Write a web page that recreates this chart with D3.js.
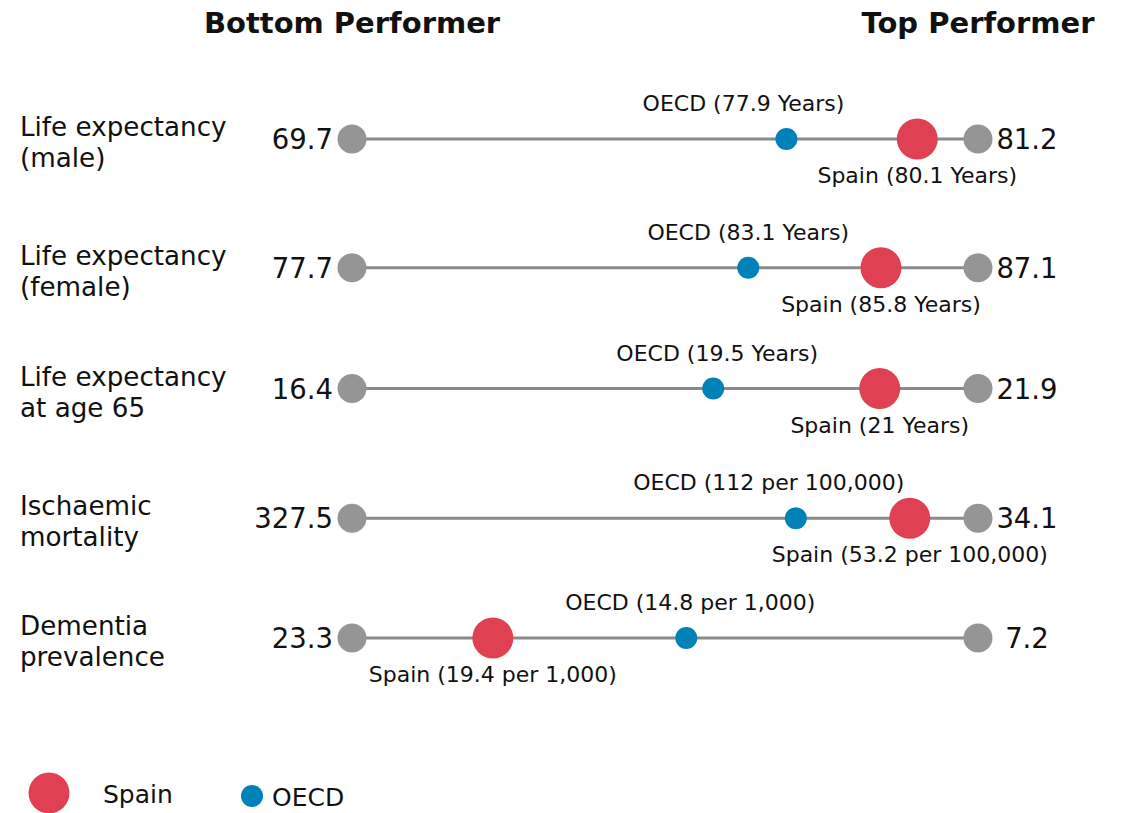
<!DOCTYPE html>
<html>
<head>
<meta charset="utf-8">
<script src="https://cdn.jsdelivr.net/npm/d3@7"></script>
<style>
  body { margin: 0; background: #fff; }
  text { font-family: "DejaVu Sans", Verdana, sans-serif; fill: #111; }
</style>
</head>
<body>
<script>
// indicators, one row each (two lines of label)
var categories = [
  ["Life expectancy", "(male)"],
  ["Life expectancy", "(female)"],
  ["Life expectancy", "at age 65"],
  ["Ischaemic", "mortality"],
  ["Dementia", "prevalence"]
];
var bottomValues = ["69.7", "77.7", "16.4", "327.5", "23.3"];
var topValues = ["81.2", "87.1", "21.9", "34.1", "7.2"];
var spainValues = ["80.1", "85.8", "21", "53.2", "19.4"];
var oecdValues = ["77.9", "83.1", "19.5", "112", "14.8"];
var units = ["Years", "Years", "Years", "per 100,000", "per 1,000"];
// standardised position between bottom (0) and top (100) performer
var spainScore = [90.3, 84.5, 84.3, 89.1, 22.5];
var oecdScore = [69.4, 63.3, 57.7, 70.9, 53.4];

var width = 1127, height = 813;
var red = "#e04152", blue = "#0082b8", grey = "#959595";

var svg = d3.select("body").append("svg")
  .attr("width", width)
  .attr("height", height);

var x = d3.scaleLinear().domain([0, 100]).range([352, 978]);
var y = d3.scalePoint().domain(d3.range(categories.length)).range([139, 638]);
// rows in the original alternate slightly in spacing
var rowShift = [0, 4, 0, 5, 0];

// small nudges so the OECD label clears the Spain marker
var oecdNudge = [-43, 0, 4, -27, 4];

// column titles
svg.append("text")
  .attr("x", x(0)).attr("y", 33)
  .attr("text-anchor", "middle")
  .style("font-weight", "bold").style("font-size", "29px")
  .text("Bottom Performer");
svg.append("text")
  .attr("x", x(100)).attr("y", 33)
  .attr("text-anchor", "middle")
  .style("font-weight", "bold").style("font-size", "29px")
  .text("Top Performer");

var rows = svg.selectAll("g.row")
  .data(categories)
  .enter().append("g")
  .attr("class", "row")
  .attr("transform", function(d, i) { return "translate(0," + (y(i) + rowShift[i]) + ")"; });

// category label
rows.append("text")
  .attr("x", 20)
  .style("font-size", "26.2px")
  .selectAll("tspan")
  .data(function(d) { return d; })
  .enter().append("tspan")
  .attr("x", 20)
  .attr("y", function(d, j) { return j == 0 ? -3 : 28; })
  .text(function(d) { return d; });

// range line
rows.append("line")
  .attr("x1", x(0)).attr("x2", x(100))
  .attr("stroke", "#8a8a8a")
  .attr("stroke-width", 3);

// bottom and top performers
rows.append("circle").attr("cx", x(0)).attr("r", 14.5).attr("fill", grey);
rows.append("circle").attr("cx", x(100)).attr("r", 14.5).attr("fill", grey);

rows.append("text")
  .attr("x", x(0) - 19).attr("y", 10)
  .attr("text-anchor", "end")
  .style("font-size", "27.5px")
  .text(function(d, i) { return bottomValues[i]; });
rows.append("text")
  .attr("x", x(100) + 49).attr("y", 10)
  .attr("text-anchor", "middle")
  .style("font-size", "27.5px")
  .text(function(d, i) { return topValues[i]; });

// OECD average
rows.append("circle")
  .attr("cx", function(d, i) { return x(oecdScore[i]); })
  .attr("r", 11)
  .attr("fill", blue);
rows.append("text")
  .attr("x", function(d, i) { return x(oecdScore[i]) + oecdNudge[i]; })
  .attr("y", -28)
  .attr("text-anchor", "middle")
  .style("font-size", "22px")
  .text(function(d, i) { return "OECD (" + oecdValues[i] + " " + units[i] + ")"; });

// Spain
rows.append("circle")
  .attr("cx", function(d, i) { return x(spainScore[i]); })
  .attr("r", 20.5)
  .attr("fill", red);
rows.append("text")
  .attr("x", function(d, i) { return x(spainScore[i]); })
  .attr("y", 44)
  .attr("text-anchor", "middle")
  .style("font-size", "22px")
  .text(function(d, i) { return "Spain (" + spainValues[i] + " " + units[i] + ")"; });

// legend
var legend = svg.append("g");
legend.append("circle").attr("cx", 49).attr("cy", 793).attr("r", 20.5).attr("fill", red);
legend.append("text").attr("x", 103).attr("y", 803).style("font-size", "25px").text("Spain");
legend.append("circle").attr("cx", 252).attr("cy", 796).attr("r", 11).attr("fill", blue);
legend.append("text").attr("x", 272).attr("y", 806).style("font-size", "25px").text("OECD");
</script>
</body>
</html>
